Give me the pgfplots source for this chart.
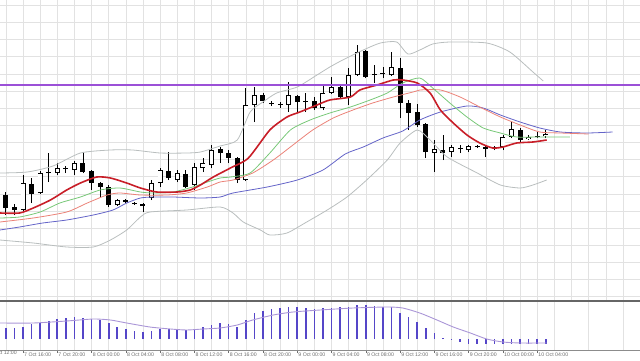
\documentclass[border=0pt]{standalone}
\usepackage{pgfplots}
\pgfplotsset{compat=1.18}
\usepackage{pgfplotstable}
\usepackage{fontspec}
\setmainfont{Liberation Sans}

\definecolor{gridc}{RGB}{226,226,226}
\definecolor{purpl}{RGB}{155,80,215}
\definecolor{redma}{RGB}{200,30,40}
\definecolor{greenma}{RGB}{120,200,120}
\definecolor{salmonma}{RGB}{235,130,120}
\definecolor{bluema}{RGB}{100,100,200}
\definecolor{bandc}{RGB}{185,190,190}
\definecolor{histc}{RGB}{85,70,200}
\definecolor{sigc}{RGB}{170,150,215}
\definecolor{lbl}{RGB}{110,110,110}

% bullish candles (close > open)
\pgfplotstableread{
i O H L C
0 90 125 89 117
2 107 129 106 127
4 127 137 125 132
5 131 134 127 131.6
6 130 139 125 137
11 95 101 94 100
15 102 120 100 117
16 117 132 113 130
18 120 130 118 127
20 115 137 110 133
21 132 142 128 137
22 135 155 132 150
26 120 212 119 195
27 195 213 178 205
31 195 218 188 205
33 198 207 188 199
35 192 215 190 207
36 207 223 206 213
38 203 232 195 225
39 225 255 224 248
41 225 235 217 226
42 226 233 222 227
43 225 248 224 233
48 147 160 128 151
50 148 155 143 153
52 150 155 148 154
55 152 154 150 152.6
56 153 165 150 163
57 163 178 162 171
59 161 165 160 163
60 163.5 168 162 164
61 164 170 162 166
}\bull

% bearish candles (close < open)
\pgfplotstableread{
i O H L C
-2 105 108 85 92
-1 93 96 85 90
1 116 122 97 106
3 128 147 118 127
7 137 148 127 128
8 129 130 110 117
9 117 118 103 113
10 113 115 93 95
12 100 101 97 98
13 97 98 95 96
14 96 97 88 94
17 129 148 120 122
19 126 130 112 113
23 151 153 137 147
24 147 150 137 142
25 142 143 117 120
28 205 207 197 199
29 197 199 194 196.4
30 196.5 198 192 196
32 204 205 188 198
34 199 203 190 192
37 213 214 202 203
40 249 250 222 223
44 232 242 182 197
45 197 200 170 187
46 188 196 173 175
47 176 177 142 148
49 150 165 140 147
51 152 155 147 151
53 154 155 152 153
54 153 154 143 151
58 170 172 158 160
}\bear

% histogram of the lower panel
\pgfplotstableread{
i h
-2 11
-1 11
0 12
1 15
2 16
3 18
4 20
5 21
6 22
7 21
8 20
9 19
10 16
11 12
12 10
13 8
14 7
15 8
16 10
17 10
18 9
19 9
20 10
21 12
22 14
23 16
24 15
25 12
26 19
27 26
28 28
29 30
30 31
31 32
32 32
33 31
34 30
35 31
36 31
37 32
38 32
39 34
40 34
41 33
42 32
43 32
44 26
45 22
46 17
47 11
48 6
49 1
50 0.5
51 -3
52 -5
53 -5
54 -5
55 -5
56 -5
57 -5
58 -5
59 -5
60 -5
61 -5
}\histo

\begin{document}
\begin{tikzpicture}[x=1pt,y=1pt]
\begin{axis}[
  at={(0pt,60pt)}, anchor=south west,
  width=640pt, height=300pt, scale only axis,
  xmin=-2.684, xmax=71.99, ymin=0, ymax=300,
  axis line style={draw=none}, tick style={draw=none},
  xtick={-2,0,...,72}, ytick={3.3,20.44,...,300},
  xticklabels={}, yticklabels={},
  grid=major, major grid style={draw=gridc, line width=0.6pt},
]
% wicks
\addplot[draw=none, mark=none, error bars/.cd, y dir=plus, y explicit, error mark=none,
  error bar style={draw=black, line width=0.9pt}]
  table[x=i, y=L, y error expr=\thisrow{H}-\thisrow{L}] {\bear};
\addplot[draw=none, mark=none, error bars/.cd, y dir=plus, y explicit, error mark=none,
  error bar style={draw=black, line width=0.9pt}]
  table[x=i, y=L, y error expr=\thisrow{H}-\thisrow{L}] {\bull};
% bearish bodies
\addplot[draw=none, mark=none, error bars/.cd, y dir=plus, y explicit, error mark=none,
  error bar style={draw=black, line width=5pt}]
  table[x=i, y=C, y error expr=\thisrow{O}-\thisrow{C}] {\bear};
% bullish bodies: outline then white fill
\addplot[draw=none, mark=none, error bars/.cd, y dir=plus, y explicit, error mark=none,
  error bar style={draw=black, line width=5pt}]
  table[x=i, y=O, y error expr=\thisrow{C}-\thisrow{O}] {\bull};
\addplot[draw=none, mark=none, error bars/.cd, y dir=plus, y explicit, error mark=none,
  error bar style={draw=white, line width=3.4pt}]
  table[x=i, y expr=\thisrow{O}+0.8, y error expr={max(\thisrow{C}-\thisrow{O}-1.6,0)}] {\bull};

% Bollinger bands
\addplot[bandc, line width=0.8pt, smooth, tension=0.4] coordinates {
(-2.7,127) (0.5,128) (3.5,134) (6.7,147) (10.2,150) (12.8,150) (16.0,147) (19.1,147) (20.7,148) (23.0,154) (25.0,160) (26.5,188) (28.0,198) (29.6,207) (32.0,213) (34.3,225) (35.8,233) (37.3,240) (39.7,250) (41.7,257) (43.6,258) (44.9,246) (46.3,250) (47.8,256) (49.8,258) (54.1,257) (56.8,248) (59.5,228) (60.7,219)};
\addplot[bandc, line width=0.8pt, smooth, tension=0.4] coordinates {
(-2.7,60) (1.2,57) (5.1,53) (8.2,53) (10.2,60) (12.1,70) (13.7,83) (14.8,88) (19.1,90) (23.0,93) (24.5,87) (25.7,78) (27.7,70) (28.8,65) (30.8,67) (33.1,78) (35.5,90) (37.8,103) (40.1,120) (42.5,140) (44.0,157) (46.0,170) (47.5,160) (49.5,143) (53.0,127) (55.7,115) (58.0,112) (59.5,115) (61.1,120)};
% blue
\addplot[bluema, line width=0.8pt, smooth, tension=0.4] coordinates {
(-2.7,70) (-0.4,73) (2.3,77) (5.1,80) (8.2,85) (10.5,90) (12.1,97) (13.7,102) (15.2,103) (17.5,103) (20.7,102) (23.0,103) (24.5,107) (28.5,113) (32.0,120) (35.0,130) (37.6,146) (39.7,153) (42.0,162) (44.3,169) (46.3,180) (48.7,188) (51.8,194) (53.7,192) (55.7,185) (58.0,178) (60.3,172) (62.7,168) (65.8,167) (68.8,168)};
% salmon
\addplot[salmonma, line width=0.8pt, smooth, tension=0.4] coordinates {
(-2.7,78) (1.2,82) (5.1,88) (7.5,97) (9.8,105) (11.3,107) (13.7,105) (16.8,105) (19.1,107) (21.5,113) (23.0,118) (24.5,120) (26.8,127) (29.2,140) (31.5,155) (33.8,170) (36.2,182) (38.5,190) (40.8,197) (43.2,203) (45.5,208) (46.3,210) (48.7,210) (51.0,203) (53.3,193) (55.7,183) (58.0,175) (60.3,168) (62.7,167) (66.0,166)};
% green
\addplot[greenma, line width=0.8pt, smooth, tension=0.4] coordinates {
(-2.7,82) (-0.4,83) (2.0,88) (4.3,97) (6.7,103) (9.0,110) (11.3,112) (13.7,108) (15.2,107) (17.5,108) (19.8,113) (21.5,118) (23.0,122) (24.2,123) (26.5,127) (28.8,147) (31.2,170) (33.5,180) (35.8,187) (38.2,193) (40.5,200) (42.5,207) (44.3,217) (46.3,222) (47.8,212) (49.8,197) (51.8,183) (53.7,172) (55.7,167) (57.6,163) (60.3,163) (63.8,163)};
% red thick
\addplot[redma, line width=1.6pt, smooth, tension=0.4] coordinates {
(-2.7,87) (-0.4,87) (1.2,92) (3.2,100) (5.1,110) (6.7,117) (8.6,123) (10.2,122) (12.1,117) (13.7,112) (15.6,108) (18.0,108) (19.5,110) (20.7,115) (22.2,123) (24.2,132) (26.3,142) (28.8,170) (30.8,183) (32.3,188) (34.3,195) (35.8,200) (38.2,203) (39.3,210) (41.3,215) (43.2,220) (44.3,220) (46.0,217) (47.5,207) (48.7,190) (50.2,177) (51.8,165) (53.3,157) (54.8,152) (56.0,153) (57.6,157) (59.5,158) (61.1,160)};
% horizontal level
\addplot[purpl, line width=1.8pt] coordinates {(-2.684,215) (71.99,215)};
\end{axis}

\begin{axis}[
  at={(0pt,10pt)}, anchor=south west,
  width=640pt, height=48pt, scale only axis,
  xmin=-2.684, xmax=71.99, ymin=-11, ymax=37,
  axis line style={draw=none},
  xtick={0,4,...,60},
  xticklabels={7 Oct 16:00,7 Oct 20:00,8 Oct 00:00,8 Oct 04:00,8 Oct 08:00,8 Oct 12:00,8 Oct 16:00,8 Oct 20:00,9 Oct 00:00,9 Oct 04:00,9 Oct 08:00,9 Oct 12:00,9 Oct 16:00,9 Oct 20:00,10 Oct 00:00,10 Oct 04:00},
  minor xtick={-2,2,...,70},
  ytick=\empty,
  xtick pos=lower, tick align=outside, major tick length=2.5pt, minor tick length=0pt,
  xtick style={draw=lbl, line width=0.5pt},
  xmajorgrids, xminorgrids,
  major grid style={draw=gridc, line width=0.6pt},
  minor grid style={draw=gridc, line width=0.6pt},
  xticklabel style={anchor=north west, inner sep=0pt, xshift=1pt, yshift=-0.5pt,
    font=\fontsize{5.2}{6}\selectfont, text=lbl},
]
\addplot[ycomb, draw=histc, line width=1.6pt, mark=none] table[x=i, y=h] {\histo};
\addplot[sigc, line width=0.9pt, smooth, tension=0.4] coordinates {
(-2.7,16) (1.2,16) (5.1,18) (8.2,20) (10.2,19) (12.1,16) (14.8,12) (17.2,10) (19.1,9) (21.0,10) (23.0,11) (25.0,14) (26.8,19) (29.2,24) (31.5,27) (34.7,29) (38.5,31) (42.5,32) (44.3,31) (46.3,26) (48.3,19) (50.2,12) (52.2,6) (54.1,0) (56.0,-3) (58.0,-4) (61.1,-4)};
\end{axis}
% panel separator and bottom rule
\draw[black!60, line width=1.8pt] (0,58.9) -- (640,58.9);
\draw[black!45, line width=0.7pt] (0,10) -- (640,10);
\node[anchor=north west, inner sep=0pt, font=\fontsize{5.2}{6}\selectfont, text=lbl] at (-10.3pt,9.5pt) {7 Oct 12:00};
\pgfresetboundingbox
\useasboundingbox (0,0) rectangle (640,360);
\end{tikzpicture}
\end{document}
